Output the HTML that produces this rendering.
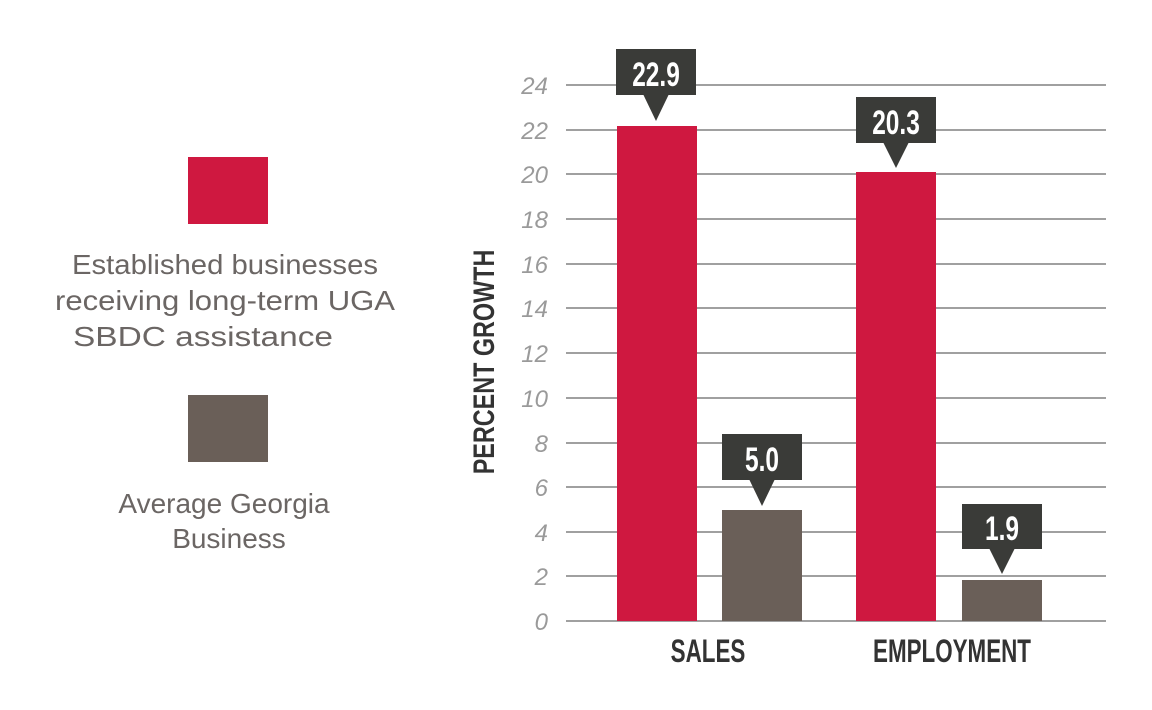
<!DOCTYPE html>
<html><head><meta charset="utf-8"><style>
html,body{margin:0;padding:0;background:#fff;}
body{width:1152px;height:710px;position:relative;overflow:hidden;font-family:"Liberation Sans",sans-serif;}
</style></head><body>
<svg width="1152" height="710" xmlns="http://www.w3.org/2000/svg" style="position:absolute;left:0;top:0">
<rect x="188" y="157" width="80" height="67" fill="#cf1840"/>
<rect x="188" y="395" width="80" height="67" fill="#6a5f58"/>
<g font-family="Liberation Sans, sans-serif" font-size="28" fill="#6b6664" text-anchor="middle">
<text x="225" y="274" textLength="306" lengthAdjust="spacingAndGlyphs">Established businesses</text>
<text x="225" y="310" textLength="340" lengthAdjust="spacingAndGlyphs">receiving long-term UGA</text>
<text x="203" y="346" textLength="260" lengthAdjust="spacingAndGlyphs">SBDC assistance</text>
<text x="224" y="513">Average Georgia</text>
<text x="229" y="548">Business</text>
</g>
<g stroke="#a0a0a0" stroke-width="2">
<line x1="566" x2="1106" y1="85" y2="85"/><line x1="566" x2="1106" y1="130" y2="130"/>
<line x1="566" x2="1106" y1="174" y2="174"/><line x1="566" x2="1106" y1="219" y2="219"/>
<line x1="566" x2="1106" y1="264" y2="264"/><line x1="566" x2="1106" y1="308" y2="308"/>
<line x1="566" x2="1106" y1="353" y2="353"/><line x1="566" x2="1106" y1="398" y2="398"/>
<line x1="566" x2="1106" y1="443" y2="443"/><line x1="566" x2="1106" y1="487" y2="487"/>
<line x1="566" x2="1106" y1="532" y2="532"/><line x1="566" x2="1106" y1="576" y2="576"/>
<line x1="566" x2="1106" y1="621" y2="621"/>
</g>
<g font-family="Liberation Sans, sans-serif" font-size="24" font-style="italic" fill="#9a9a9a" text-anchor="end">
<text x="548" y="94">24</text><text x="548" y="139">22</text><text x="548" y="183">20</text>
<text x="548" y="228">18</text><text x="548" y="273">16</text><text x="548" y="317">14</text>
<text x="548" y="362">12</text><text x="548" y="407">10</text><text x="548" y="452">8</text>
<text x="548" y="496">6</text><text x="548" y="541">4</text><text x="548" y="585">2</text>
<text x="548" y="630">0</text>
</g>
<text transform="translate(494,362) rotate(-90) scale(0.78,1)" font-family="Liberation Sans, sans-serif" font-weight="bold" font-size="30" fill="#333" text-anchor="middle" textLength="288" lengthAdjust="spacingAndGlyphs">PERCENT GROWTH</text>
<rect x="617" y="126" width="80" height="495" fill="#cf1840"/>
<rect x="722" y="510" width="80" height="111" fill="#6a5f58"/>
<rect x="856" y="172" width="80" height="449" fill="#cf1840"/>
<rect x="962" y="580" width="80" height="41" fill="#6a5f58"/>
<g fill="#3a3b38">
<rect x="616" y="49" width="80" height="46"/><polygon points="643,94 669,94 656,121"/>
<rect x="722" y="434" width="80" height="46"/><polygon points="749,479 775,479 762,506"/>
<rect x="856" y="97" width="80" height="46"/><polygon points="883,142 909,142 896,168"/>
<rect x="962" y="504" width="80" height="45"/><polygon points="989,548 1015,548 1002,574"/>
</g>
<g font-family="Liberation Sans, sans-serif" font-weight="bold" font-size="34" fill="#fff" text-anchor="middle">
<text transform="translate(656,86) scale(0.72,1)">22.9</text>
<text transform="translate(762,471) scale(0.72,1)">5.0</text>
<text transform="translate(896,134) scale(0.72,1)">20.3</text>
<text transform="translate(1002,540) scale(0.72,1)">1.9</text>
</g>
<g font-family="Liberation Sans, sans-serif" font-weight="bold" font-size="32" fill="#333" text-anchor="middle">
<text transform="translate(708,662) scale(0.7,1)">SALES</text>
<text transform="translate(952,662) scale(0.7,1)">EMPLOYMENT</text>
</g>
</svg>
</body></html>
